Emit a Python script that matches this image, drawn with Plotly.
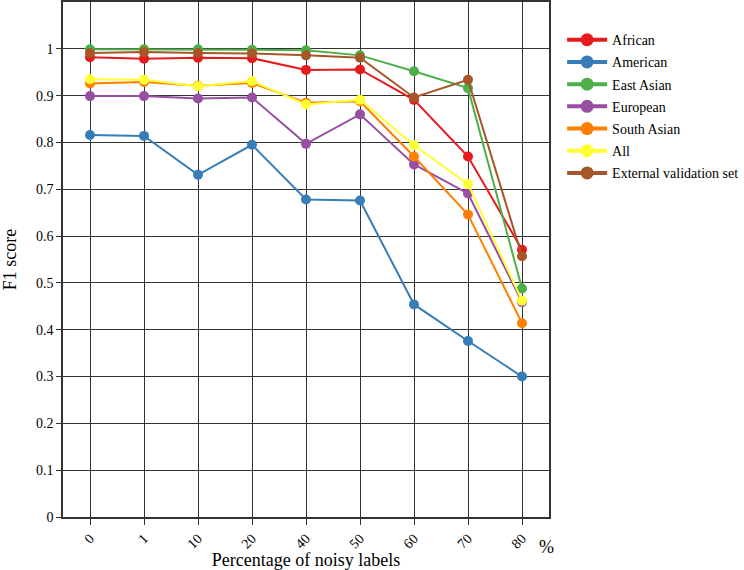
import plotly.graph_objects as go

categories = ["0", "1", "10", "20", "40", "50", "60", "70", "80"]
y_ticks = [0, 0.1, 0.2, 0.3, 0.4, 0.5, 0.6, 0.7, 0.8, 0.9, 1.0]
y_tick_labels = ["0", "0.1", "0.2", "0.3", "0.4", "0.5", "0.6", "0.7", "0.8", "0.9", "1"]

african = [0.982, 0.979, 0.981, 0.980, 0.955, 0.956, 0.891, 0.770, 0.571]
american = [0.816, 0.814, 0.731, 0.795, 0.678, 0.676, 0.454, 0.376, 0.300]
east_asian = [0.999, 0.999, 0.999, 0.998, 0.997, 0.986, 0.952, 0.916, 0.488]
european = [0.899, 0.899, 0.894, 0.896, 0.797, 0.860, 0.753, 0.691, 0.459]
south_asian = [0.926, 0.929, 0.921, 0.927, 0.885, 0.888, 0.770, 0.646, 0.414]
all_set = [0.935, 0.934, 0.920, 0.931, 0.881, 0.891, 0.794, 0.711, 0.462]
external = [0.991, 0.993, 0.991, 0.990, 0.986, 0.981, 0.896, 0.934, 0.557]

series = [
    ("African", african, "#e41a1c"),
    ("American", american, "#377eb8"),
    ("East Asian", east_asian, "#4daf4a"),
    ("European", european, "#984ea3"),
    ("South Asian", south_asian, "#ff7f00"),
    ("All", all_set, "#ffff33"),
    ("External validation set", external, "#a65628"),
]

FONT = "Liberation Serif"
fig = go.Figure()
for name, vals, color in series:
    fig.add_trace(go.Scatter(
        x=categories, y=vals, name=name, mode="lines+markers",
        line=dict(color=color, width=2),
        marker=dict(color=color, size=10),
        showlegend=False, legendgroup=name,
    ))
# legend entries with thicker sample lines, as in the reference
for name, vals, color in series:
    fig.add_trace(go.Scatter(
        x=[None], y=[None], name=name, mode="lines+markers",
        line=dict(color=color, width=4),
        marker=dict(color=color, size=13),
        showlegend=True, legendgroup=name,
    ))

axis_common = dict(
    showgrid=True, gridcolor="#333333", gridwidth=1,
    showline=True, linecolor="#333333", linewidth=1.5, mirror=True,
    ticks="outside", tickcolor="#333333", zeroline=False,
)

fig.update_layout(
    width=744, height=570,
    margin=dict(l=63, r=195, t=2, b=53, autoexpand=False),
    paper_bgcolor="white", plot_bgcolor="white",
    font=dict(family=FONT, size=14, color="black"),
    xaxis=dict(
        type="category", range=[-0.5, 8.5], tickangle=-45, ticklen=6,
        title=dict(text="Percentage of noisy labels", font=dict(size=18), standoff=6),
        tickfont=dict(size=14),
        **axis_common,
    ),
    yaxis=dict(
        range=[0, 1.1], tickvals=y_ticks, ticktext=y_tick_labels, ticklen=5,
        title=dict(text="F1 score", font=dict(size=18), standoff=16),
        tickfont=dict(size=14),
        **axis_common,
    ),
    legend=dict(
        x=1.027, y=0.957, xanchor="left", yanchor="top",
        font=dict(size=14, family=FONT), bgcolor="rgba(0,0,0,0)",
        tracegroupgap=1, itemwidth=40, groupclick="toggleitem",
    ),
    showlegend=True,
)

fig.add_annotation(
    text="%", x=0.995, y=-0.035, xref="paper", yref="paper",
    xanchor="center", yanchor="top", showarrow=False,
    font=dict(size=18, family=FONT, color="black"),
)

fig.write_html("out.html")
